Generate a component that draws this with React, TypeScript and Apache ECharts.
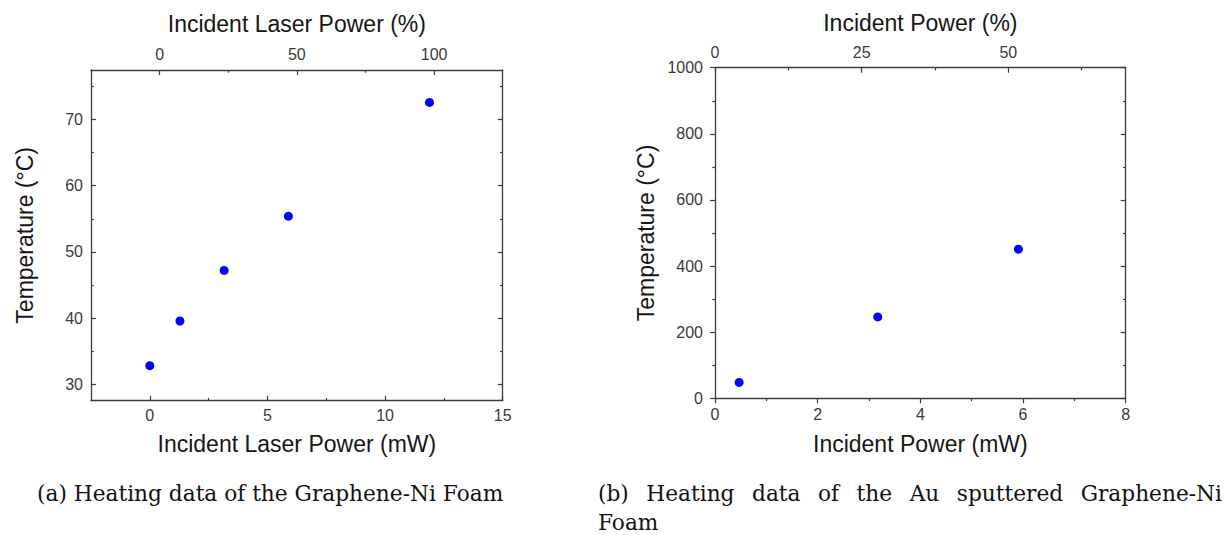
import { useEffect, useRef } from "react";
import * as echarts from "echarts";

// ---- data ----
const powerA_mW = [0, 1.28, 3.16, 5.89, 11.89];
const tempA_C = [32.8, 39.55, 47.2, 55.4, 72.6];

const powerB_mW = [0.47, 3.17, 5.91];
const tempB_C = [48, 246, 451];

// ---- tick values ----
const xMajorA = [0, 5, 10, 15];
const xMinorA = [2.5, 7.5, 12.5];
const pctMajorA = [0, 50, 100];
const pctMinorA = [25, 75];
const yMajorA = [30, 40, 50, 60, 70];
const yMinorA = [35, 45, 55, 65, 75];

const xMajorB = [0, 2, 4, 6, 8];
const xMinorB = [1, 3, 5, 7];
const pctMajorB = [0, 25, 50];
const pctMinorB = [12.5, 37.5, 62.5];
const yMajorB = [0, 200, 400, 600, 800, 1000];
const yMinorB = [100, 300, 500, 700, 900];

// ---- texts ----
const titleTopA = "Incident Laser Power (%)";
const titleBottomA = "Incident Laser Power (mW)";
const titleTopB = "Incident Power (%)";
const titleBottomB = "Incident Power (mW)";
const titleY = "Temperature (°C)";
const captionA = "(a) Heating data of the Graphene-Ni Foam";
const captionB1 = "(b) Heating data of the Au sputtered Graphene-Ni";
const captionB2 = "Foam";

const SANS = "Arial, 'Liberation Sans', sans-serif";
const SERIF = "'DejaVu Serif', serif";
const AXIS_COLOR = "#3c3c3c";
const LABEL_COLOR = "#3a3a3a";
const NAME_COLOR = "#161616";

type AxOpt = {
  grid: number;
  pos: string;
  min: number;
  max: number;
  ticks: number[];
  labels?: boolean;
  inside: boolean;
  len: number;
  line: boolean;
  name?: string;
  nameGap?: number;
  labelMargin?: number;
};

function makeAxis(o: AxOpt) {
  return {
    type: "value",
    gridIndex: o.grid,
    position: o.pos,
    min: o.min,
    max: o.max,
    scale: true,
    name: o.name || "",
    nameLocation: "middle",
    nameGap: o.nameGap || 0,
    nameTextStyle: { fontSize: 23, color: NAME_COLOR, fontFamily: SANS },
    axisLine: {
      show: o.line,
      onZero: false,
      lineStyle: { color: AXIS_COLOR, width: 1.3 },
    },
    axisTick: {
      show: true,
      inside: o.inside,
      length: o.len,
      customValues: o.ticks,
      lineStyle: { color: AXIS_COLOR, width: 1.2 },
    },
    axisLabel: {
      show: !!o.labels,
      customValues: o.ticks,
      margin: o.labelMargin ?? 8,
      fontSize: 16,
      color: LABEL_COLOR,
      fontFamily: SANS,
      hideOverlap: false,
      showMinLabel: true,
      showMaxLabel: true,
      formatter: (v: number) => String(v),
    },
    splitLine: { show: false },
    minorTick: { show: false },
    minorSplitLine: { show: false },
  };
}

function justifiedWords(text: string, x0: number, x1: number, y: number, fontSize: number) {
  const words = text.split(" ");
  const cv = document.createElement("canvas");
  const ctx = cv.getContext("2d")!;
  ctx.font = `${fontSize}px 'DejaVu Serif'`;
  const widths = words.map((w) => ctx.measureText(w).width);
  const total = widths.reduce((a, b) => a + b, 0);
  const gap = (x1 - x0 - total) / (words.length - 1);
  let x = x0;
  return words.map((w, i) => {
    const el = {
      type: "text",
      x,
      y,
      style: {
        text: w,
        fontSize,
        fontFamily: SERIF,
        fill: "#111",
        verticalAlign: "middle",
        textVerticalAlign: "middle",
      },
    };
    x += widths[i] + gap;
    return el;
  });
}

export default function App() {
  const ref = useRef<HTMLDivElement>(null);

  useEffect(() => {
    if (!ref.current) return;
    const chart = echarts.init(ref.current, undefined, { renderer: "svg" });

    const xAxes = [
      // grid 0
      makeAxis({ grid: 0, pos: "bottom", min: -2.5, max: 15, ticks: xMajorA, labels: true, inside: true, len: 5, line: true, name: titleBottomA, nameGap: 32, labelMargin: 7 }),
      makeAxis({ grid: 0, pos: "bottom", min: -2.5, max: 15, ticks: xMinorA, inside: true, len: 2.7, line: false }),
      makeAxis({ grid: 0, pos: "top", min: -25, max: 125, ticks: pctMajorA, labels: true, inside: true, len: 5, line: true, name: titleTopA, nameGap: 35, labelMargin: 8 }),
      makeAxis({ grid: 0, pos: "top", min: -25, max: 125, ticks: pctMinorA, inside: true, len: 2.7, line: false }),
      // grid 1
      makeAxis({ grid: 1, pos: "bottom", min: 0, max: 8, ticks: xMajorB, labels: true, inside: false, len: 5, line: true, name: titleBottomB, nameGap: 34, labelMargin: 8 }),
      makeAxis({ grid: 1, pos: "bottom", min: 0, max: 8, ticks: xMinorB, inside: false, len: 2.7, line: false }),
      makeAxis({ grid: 1, pos: "top", min: 0, max: 70, ticks: pctMajorB, labels: true, inside: true, len: 5, line: true, name: titleTopB, nameGap: 33, labelMargin: 7 }),
      makeAxis({ grid: 1, pos: "top", min: 0, max: 70, ticks: pctMinorB, inside: true, len: 2.7, line: false }),
    ];

    const yAxes = [
      // grid 0
      makeAxis({ grid: 0, pos: "left", min: 27.5, max: 77.5, ticks: yMajorA, labels: true, inside: true, len: 5, line: true, name: titleY, nameGap: 55, labelMargin: 8 }),
      makeAxis({ grid: 0, pos: "left", min: 27.5, max: 77.5, ticks: yMinorA, inside: true, len: 2.7, line: false }),
      makeAxis({ grid: 0, pos: "right", min: 27.5, max: 77.5, ticks: yMajorA, inside: true, len: 5, line: true }),
      makeAxis({ grid: 0, pos: "right", min: 27.5, max: 77.5, ticks: yMinorA, inside: true, len: 2.7, line: false }),
      // grid 1
      makeAxis({ grid: 1, pos: "left", min: 0, max: 1000, ticks: yMajorB, labels: true, inside: false, len: 5, line: true, name: titleY, nameGap: 58, labelMargin: 12 }),
      makeAxis({ grid: 1, pos: "left", min: 0, max: 1000, ticks: yMinorB, inside: false, len: 2.7, line: false }),
      makeAxis({ grid: 1, pos: "right", min: 0, max: 1000, ticks: yMajorB, inside: true, len: 5, line: true }),
      makeAxis({ grid: 1, pos: "right", min: 0, max: 1000, ticks: yMinorB, inside: true, len: 2.7, line: false }),
    ];

    const option: any = {
      animation: false,
      backgroundColor: "#ffffff",
      grid: [
        { left: 91, top: 70, width: 411.7, height: 330.7, containLabel: false, outerBoundsMode: "none" },
        { left: 715, top: 67.7, width: 410.7, height: 330.6, containLabel: false, outerBoundsMode: "none" },
      ],
      xAxis: xAxes,
      yAxis: yAxes,
      series: [
        {
          type: "scatter",
          xAxisIndex: 0,
          yAxisIndex: 0,
          symbol: "circle",
          symbolSize: 9,
          itemStyle: { color: "#0000ff", opacity: 1 },
          data: powerA_mW.map((p, i) => [p, tempA_C[i]]),
        },
        {
          type: "scatter",
          xAxisIndex: 4,
          yAxisIndex: 4,
          symbol: "circle",
          symbolSize: 9,
          itemStyle: { color: "#0000ff", opacity: 1 },
          data: powerB_mW.map((p, i) => [p, tempB_C[i]]),
        },
      ],
      graphic: [
        {
          type: "text",
          x: 37,
          y: 493,
          style: {
            text: captionA,
            fontSize: 21.7,
            fontFamily: SERIF,
            fill: "#111",
            verticalAlign: "middle",
            textVerticalAlign: "middle",
          },
        },
        ...justifiedWords(captionB1, 598, 1222, 493, 21.7),
        {
          type: "text",
          x: 598,
          y: 522,
          style: {
            text: captionB2,
            fontSize: 21.7,
            fontFamily: SERIF,
            fill: "#111",
            verticalAlign: "middle",
            textVerticalAlign: "middle",
          },
        },
      ],
    };

    chart.setOption(option);
    return () => chart.dispose();
  }, []);

  return (
    <div
      ref={ref}
      style={{ position: "absolute", left: 0, top: 0, width: 1225, height: 535, background: "#fff" }}
    />
  );
}
